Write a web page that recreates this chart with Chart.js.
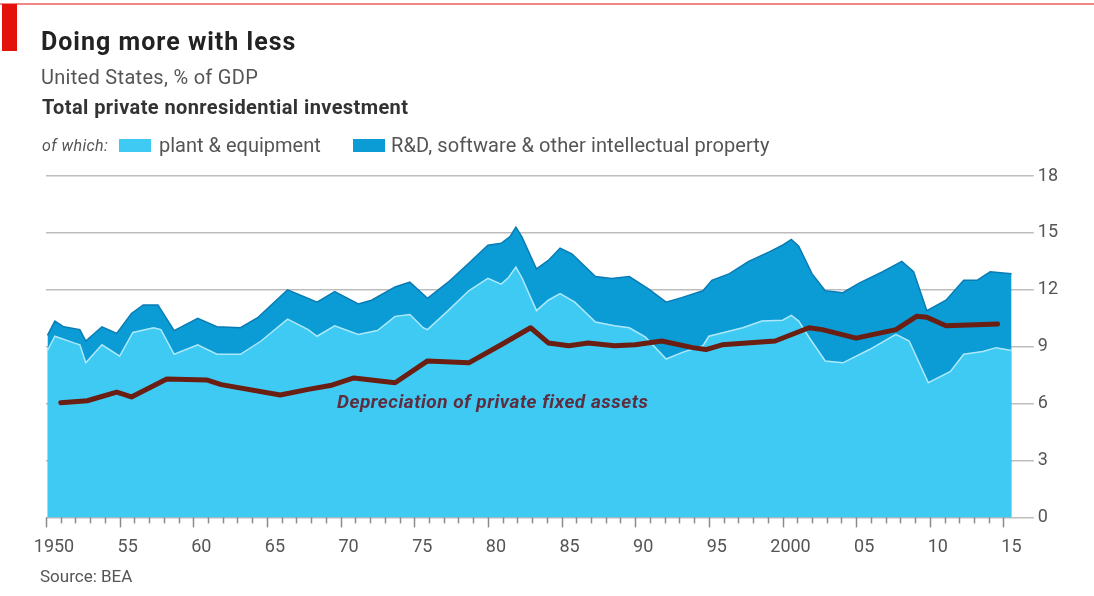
<!DOCTYPE html>
<html>
<head>
<meta charset="utf-8">
<script src="https://cdn.jsdelivr.net/npm/chart.js@4"></script>
<style>
  body { margin: 0; background: #fff; }
  #wrap { position: relative; width: 1094px; height: 596px; overflow: hidden; font-family: Roboto, "Open Sans", sans-serif; }
  #wrap canvas { position: absolute; left: 0; top: 0; }
  .txt { position: absolute; white-space: nowrap; line-height: normal; }
  #topline { position: absolute; left: 0; top: 3px; width: 1094px; height: 2px; background: rgba(227, 18, 11, 0.5); }
  #redbox { position: absolute; left: 2px; top: 4px; width: 15px; height: 47px; background: #e3120b; }
  #title { left: 41px; top: 27px; font-size: 25px; font-weight: 700; color: #222; letter-spacing: 1px; }
  #sub { left: 41px; top: 65px; font-size: 20px; color: #555; letter-spacing: 0.3px; }
  #head { left: 42px; top: 95px; font-size: 20px; font-weight: 700; color: #333; letter-spacing: 0.4px; }
  #ofwhich { left: 42px; top: 136px; font-size: 16px; font-style: italic; color: #555; letter-spacing: 0.4px; }
  .sw { position: absolute; width: 32px; height: 13px; }
  #sw1 { left: 119px; top: 139px; background: #3fcaf3; }
  #sw2 { left: 353px; top: 139px; background: #0b9bd5; }
  #lab1 { left: 159px; top: 133px; font-size: 20px; color: #555; }
  #lab2 { left: 391px; top: 133px; font-size: 20px; color: #555; letter-spacing: 0.1px; }
  #note { left: 337px; top: 390px; font-size: 19px; font-style: italic; font-weight: 700; color: #5e2e40; letter-spacing: 0.5px; }
  #source { left: 40px; top: 566px; font-size: 17px; color: #555; }
</style>
</head>
<body>
<div id="wrap">
  <canvas id="chart" width="1094" height="596"></canvas>
  <div id="topline"></div>
  <div id="redbox"></div>
  <div class="txt" id="title">Doing more with less</div>
  <div class="txt" id="sub">United States, % of GDP</div>
  <div class="txt" id="head">Total private nonresidential investment</div>
  <div class="txt" id="ofwhich">of which:</div>
  <div class="sw" id="sw1"></div>
  <div class="txt" id="lab1">plant &amp; equipment</div>
  <div class="sw" id="sw2"></div>
  <div class="txt" id="lab2">R&amp;D, software &amp; other intellectual property</div>
  <div class="txt" id="note">Depreciation of private fixed assets</div>
  <div class="txt" id="source">Source: BEA</div>
</div>
<script>
// total private nonresidential investment, % of GDP (top of the dark band)
var totalYears = [1950.1, 1950.6, 1951.2, 1952.3, 1952.7, 1953.8, 1954.8, 1955.8, 1956.6, 1957.6, 1958.7, 1960.3, 1961.6, 1963.2, 1964.4, 1966.4, 1967.8, 1968.4, 1969.6, 1971.2, 1972.1, 1973.7, 1974.7, 1975.9, 1977.3, 1978.7, 1980.0, 1980.9, 1981.5, 1981.9, 1982.3, 1983.3, 1984.1, 1984.9, 1985.7, 1987.3, 1988.4, 1989.6, 1990.9, 1992.1, 1993.2, 1994.6, 1995.2, 1996.4, 1997.7, 1999.1, 2000.0, 2000.6, 2001.1, 2002.0, 2002.9, 2004.1, 2005.2, 2006.8, 2008.1, 2008.9, 2009.8, 2011.1, 2012.3, 2013.2, 2014.1, 2015.55];
var totalValues = [9.6, 10.35, 10.05, 9.9, 9.3, 10.05, 9.7, 10.75, 11.2, 11.2, 9.85, 10.5, 10.05, 10.0, 10.55, 12.0, 11.55, 11.35, 11.9, 11.25, 11.45, 12.15, 12.4, 11.55, 12.4, 13.4, 14.35, 14.45, 14.8, 15.3, 14.8, 13.1, 13.55, 14.2, 13.9, 12.7, 12.6, 12.7, 12.05, 11.35, 11.6, 11.95, 12.5, 12.85, 13.5, 14.0, 14.35, 14.65, 14.3, 12.85, 11.95, 11.85, 12.35, 12.95, 13.5, 12.95, 10.9, 11.45, 12.5, 12.5, 12.95, 12.85];

// of which plant & equipment
var plantYears = [1950.1, 1950.6, 1951.9, 1952.3, 1952.7, 1953.8, 1955.0, 1955.9, 1957.3, 1957.8, 1958.7, 1960.3, 1961.6, 1963.2, 1964.6, 1966.4, 1967.8, 1968.4, 1969.6, 1971.2, 1972.5, 1973.7, 1974.7, 1975.6, 1975.9, 1977.3, 1978.7, 1980.0, 1980.9, 1981.4, 1981.9, 1982.3, 1983.3, 1984.1, 1984.9, 1985.9, 1987.3, 1988.6, 1989.6, 1990.7, 1992.1, 1993.2, 1994.6, 1995.0, 1997.3, 1998.6, 2000.0, 2000.6, 2001.1, 2001.8, 2002.9, 2004.1, 2005.9, 2007.7, 2008.6, 2009.9, 2011.4, 2012.3, 2013.6, 2014.5, 2015.55];
var plantValues = [8.8, 9.55, 9.2, 9.1, 8.15, 9.1, 8.5, 9.75, 10.0, 9.9, 8.6, 9.1, 8.6, 8.6, 9.3, 10.45, 9.9, 9.55, 10.1, 9.65, 9.85, 10.6, 10.7, 10.0, 9.9, 10.9, 11.95, 12.6, 12.3, 12.65, 13.2, 12.65, 10.9, 11.45, 11.8, 11.35, 10.3, 10.1, 10.0, 9.5, 8.35, 8.7, 9.05, 9.55, 10.0, 10.35, 10.4, 10.65, 10.35, 9.5, 8.25, 8.15, 8.85, 9.65, 9.3, 7.1, 7.7, 8.6, 8.75, 8.95, 8.8];

// depreciation of private fixed assets
var depYears = [1951.0, 1952.8, 1954.8, 1955.8, 1958.2, 1960.9, 1961.9, 1965.9, 1967.8, 1969.3, 1970.9, 1973.7, 1975.9, 1978.7, 1980.9, 1982.9, 1984.1, 1985.5, 1986.8, 1988.6, 1990.0, 1991.8, 1993.9, 1994.8, 1995.9, 1999.5, 2001.8, 2002.7, 2005.0, 2007.7, 2009.1, 2009.8, 2011.1, 2014.6];
var depValues = [6.05, 6.15, 6.6, 6.35, 7.3, 7.25, 7.0, 6.45, 6.75, 6.95, 7.35, 7.1, 8.25, 8.15, 9.1, 10.0, 9.2, 9.05, 9.2, 9.05, 9.1, 9.3, 8.95, 8.85, 9.1, 9.3, 10.0, 9.9, 9.45, 9.9, 10.6, 10.55, 10.1, 10.2];

var yTicks = [0, 3, 6, 9, 12, 15, 18];
var firstYear = 1950, lastTickYear = 2015;

function pts(xs, ys) {
	return xs.map(function(x, i){ return { x: x, y: ys[i] }; });
}

function yearLabel(v) {
	if (v % 5 !== 0) return '';
	if (v === 1950 || v === 2000) return String(v);
	var s = String(v % 100);
	return s.length < 2 ? '0' + s : s;
}

// small yearly ticks under the baseline, longer every five years
var yearTicks = {
	id: 'yearTicks',
	afterDraw: function(chart) {
		var ctx = chart.ctx, xs = chart.scales.x, bottom = chart.chartArea.bottom;
		ctx.save();
		ctx.strokeStyle = '#8a8a8a';
		ctx.lineWidth = 1.5;
		for (var y = firstYear; y <= lastTickYear; y++) {
			var px = Math.round(xs.getPixelForValue(y)) + 0.5;
			ctx.beginPath();
			ctx.moveTo(px, bottom);
			ctx.lineTo(px, bottom + (y % 5 === 0 ? 10 : 6));
			ctx.stroke();
		}
		ctx.restore();
	}
};

var ctx = document.getElementById('chart');
var chart = new Chart(ctx, {
	type: 'line',
	data: {
		datasets: [
			{
				data: pts(depYears, depValues),
				borderColor: '#6b1e12',
				borderWidth: 5,
				borderCapStyle: 'round',
				borderJoinStyle: 'round',
				pointRadius: 0,
				fill: false
			},
			{
				data: pts(plantYears, plantValues),
				borderColor: '#aee9fb',
				borderWidth: 1.5,
				backgroundColor: '#3fcaf3',
				pointRadius: 0,
				fill: 'origin'
			},
			{
				data: pts(totalYears, totalValues),
				borderColor: '#0a7cb5',
				borderWidth: 1.5,
				backgroundColor: '#0b9bd5',
				pointRadius: 0,
				fill: 'origin'
			}
		]
	},
	options: {
		responsive: false,
		animation: false,
		layout: { padding: { left: 46, right: 32, top: 176, bottom: 19 } },
		plugins: {
			legend: { display: false },
			tooltip: { enabled: false }
		},
		scales: {
			x: {
				type: 'linear',
				min: 1950,
				max: 2015.7,
				afterBuildTicks: function(scale) {
					var t = [];
					for (var y = firstYear; y <= lastTickYear; y++) t.push({ value: y });
					scale.ticks = t;
				},
				grid: { display: false, drawTicks: false },
				border: { display: false },
				ticks: {
					autoSkip: false,
					maxRotation: 0,
					labelOffset: 8,
					padding: 19,
					color: '#555',
					font: { family: 'Roboto', size: 18 },
					callback: function(v){ return yearLabel(v); }
				}
			},
			y: {
				position: 'right',
				min: 0,
				max: 18,
				afterBuildTicks: function(scale) {
					scale.ticks = yTicks.map(function(v){ return { value: v }; });
				},
				grid: { color: '#bdbdbd', lineWidth: 1.5, tickLength: 20 },
				border: { display: false },
				ticks: {
					padding: 4,
					color: '#555',
					font: { family: 'Roboto', size: 18 }
				}
			}
		}
	},
	plugins: [yearTicks]
});
</script>
</body>
</html>
